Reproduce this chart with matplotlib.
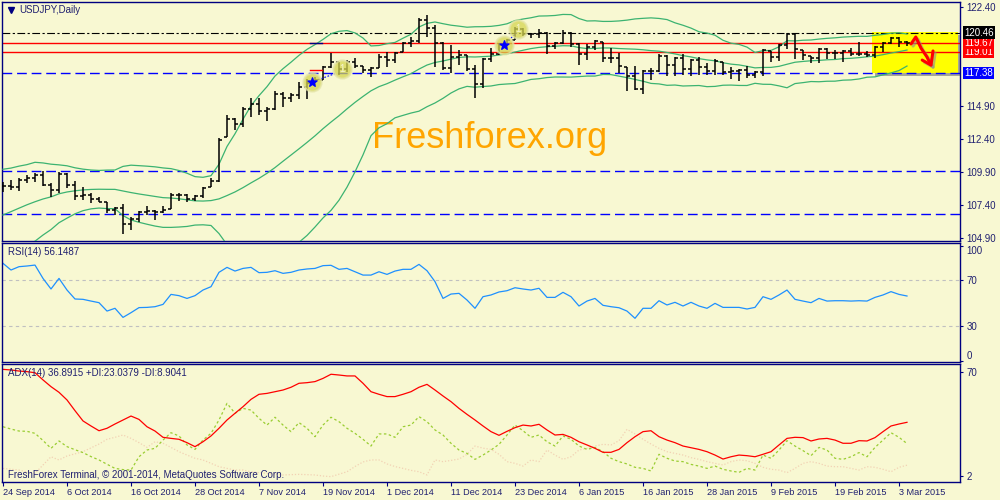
import numpy as np
import pandas as pd
import matplotlib
matplotlib.use('Agg')
import matplotlib.pyplot as plt
import matplotlib.patheffects as pe
from matplotlib.patches import Rectangle

plt.rcParams['font.family'] = ['Liberation Sans', 'DejaVu Sans']

# ---- data: USDJPY daily bars, 24 Sep 2014 .. 4 Mar 2015 ----
date_labels = ['24 Sep 2014', '6 Oct 2014', '16 Oct 2014', '28 Oct 2014', '7 Nov 2014',
               '19 Nov 2014', '1 Dec 2014', '11 Dec 2014', '23 Dec 2014', '6 Jan 2015',
               '16 Jan 2015', '28 Jan 2015', '9 Feb 2015', '19 Feb 2015', '3 Mar 2015']

highs = [109.14, 109.30, 109.45, 109.67, 109.80, 109.97, 109.07, 109.90, 109.82, 109.20,
         108.76, 108.30, 108.00, 107.63, 107.25, 107.48, 106.50, 106.95, 107.33, 107.00,
         107.33, 108.30, 108.30, 108.20, 108.15, 108.76, 109.45, 112.48, 114.20, 114.00,
         114.82, 115.50, 115.50, 114.82, 116.04, 115.96, 115.88, 116.72, 116.95, 117.10,
         117.93, 118.92, 118.23, 118.38, 118.54, 117.93, 117.85, 118.84, 119.00, 119.00,
         119.75, 120.13, 121.57, 121.80, 121.04, 119.75, 119.52, 119.14, 118.76, 118.00,
         118.54, 119.29, 119.67, 119.98, 120.88, 120.80, 120.43, 120.73, 120.50, 119.75,
         120.66, 120.50, 119.67, 119.60, 119.90, 119.75, 119.29, 118.92, 117.85, 117.93,
         117.63, 117.78, 118.84, 118.76, 118.61, 118.84, 118.46, 118.61, 118.16, 118.46,
         118.23, 117.85, 117.70, 117.93, 117.55, 119.22, 119.07, 119.60, 120.43, 120.43,
         119.14, 118.69, 119.29, 119.29, 119.14, 119.14, 119.29, 119.75, 119.07, 119.44,
         119.75, 120.13, 120.13, 119.82]
lows = [108.38, 108.50, 108.45, 109.07, 109.14, 108.84, 108.00, 108.30, 108.69, 107.78,
        107.78, 107.55, 107.60, 106.80, 106.64, 105.20, 105.50, 106.10, 106.64, 106.27,
        106.80, 107.10, 107.70, 107.63, 107.70, 107.93, 108.76, 109.14, 112.55, 113.08,
        113.30, 114.07, 114.20, 113.76, 114.60, 114.82, 115.20, 115.43, 115.43, 116.50,
        116.87, 117.78, 117.25, 117.48, 117.78, 117.40, 117.10, 117.78, 117.85, 118.16,
        119.00, 119.37, 119.67, 120.13, 117.85, 117.63, 117.40, 118.00, 117.55, 115.50,
        116.26, 118.23, 118.76, 119.29, 119.90, 120.20, 120.05, 120.05, 118.84, 119.22,
        119.60, 119.37, 118.00, 118.40, 119.14, 118.23, 118.16, 117.40, 116.04, 116.11,
        115.80, 116.87, 117.48, 117.17, 117.17, 117.25, 117.17, 117.25, 117.25, 117.25,
        117.25, 116.95, 116.80, 117.02, 117.02, 117.17, 118.23, 118.31, 119.22, 118.46,
        118.40, 118.16, 118.16, 118.46, 118.46, 118.23, 118.69, 118.69, 118.61, 118.54,
        119.00, 119.60, 119.37, 119.44]
opens = [108.80, 108.86, 108.74, 109.28, 109.44, 109.65, 108.95, 108.50, 109.76, 108.90,
         108.06, 108.13, 107.84, 107.63, 107.03, 107.15, 105.95, 106.33, 106.88, 106.93,
         106.90, 107.04, 108.17, 108.14, 107.83, 108.10, 108.76, 109.21, 112.55, 113.94,
         113.55, 114.66, 115.04, 114.52, 114.70, 115.80, 115.54, 115.73, 116.32, 116.62,
         116.90, 117.86, 118.20, 117.71, 118.25, 117.93, 117.64, 117.78, 118.63, 118.42,
         119.00, 119.70, 119.80, 121.44, 120.84, 119.68, 117.76, 118.62, 118.74, 117.70,
         116.60, 118.45, 118.87, 119.51, 119.90, 120.75, 120.32, 120.32, 120.45, 119.42,
         119.70, 120.46, 119.62, 118.83, 119.39, 119.75, 118.51, 118.53, 117.85, 117.18,
         116.15, 117.57, 117.54, 118.70, 117.98, 118.50, 117.74, 118.35, 117.86, 117.53,
         118.23, 117.49, 117.55, 117.66, 117.26, 117.45, 119.07, 118.64, 119.50, 120.35,
         119.14, 118.69, 118.55, 119.25, 118.91, 118.95, 119.05, 118.85, 118.86, 118.80,
         119.40, 119.64, 120.02, 119.75]
closes = [108.86, 108.74, 109.28, 109.44, 109.65, 108.95, 108.50, 109.76, 108.90, 108.06,
          108.13, 107.84, 107.65, 107.03, 107.15, 105.95, 106.33, 106.88, 106.93, 106.90,
          107.04, 108.17, 108.14, 107.83, 108.10, 108.65, 109.21, 112.33, 113.94, 113.55,
          114.66, 115.04, 114.52, 114.70, 115.80, 115.54, 115.73, 116.32, 116.62, 116.90,
          117.86, 118.20, 117.71, 118.25, 117.95, 117.64, 117.77, 118.63, 118.42, 118.95,
          119.70, 119.80, 121.44, 120.84, 119.68, 117.76, 118.62, 118.74, 117.70, 116.60,
          118.45, 118.87, 119.51, 119.90, 120.75, 120.32, 120.32, 120.45, 119.42, 119.70,
          120.46, 119.62, 118.83, 119.39, 119.82, 118.51, 118.53, 117.92, 117.18, 116.15,
          117.57, 117.54, 118.70, 117.98, 118.50, 117.74, 118.35, 117.86, 117.53, 118.31,
          117.49, 117.55, 117.66, 117.26, 117.45, 119.13, 118.64, 119.50, 120.35, 119.20,
          118.79, 118.55, 119.25, 118.91, 118.95, 119.05, 118.85, 118.86, 118.80, 119.40,
          119.64, 120.02, 119.75, 119.70]
# closes of the 19 sessions before 24 Sep, only used to warm up the Bollinger bands
hist_closes = [103.71, 104.06, 104.27, 105.06, 104.78, 105.30, 105.08, 106.15, 106.28, 106.79,
               107.12, 107.34, 107.19, 107.20, 108.40, 108.72, 109.01, 108.80, 108.77]

levels_black = [120.46]
levels_red = [119.67, 119.01]
levels_blue = [117.38, 110.00, 106.72]

rsi = [84.5, 78.7, 81.6, 82.2, 83.0, 71.4, 62.2, 71.4, 61.3, 53.5,
       53.2, 51.7, 50.3, 43.0, 45.4, 37.5, 41.6, 46.0, 46.2, 46.8,
       48.8, 57.5, 56.4, 54.0, 56.4, 61.3, 64.2, 76.7, 81.0, 77.8,
       80.1, 81.0, 76.4, 76.7, 78.1, 75.8, 76.7, 78.7, 79.6, 80.1,
       82.5, 82.8, 79.3, 80.1, 77.2, 74.3, 74.3, 77.2, 74.9, 77.8,
       79.3, 79.3, 83.6, 78.1, 68.6, 54.0, 57.8, 58.4, 52.6, 45.4,
       55.5, 57.0, 59.6, 60.7, 63.3, 62.2, 61.3, 62.8, 54.9, 54.9,
       59.3, 55.5, 47.4, 51.7, 54.0, 48.0, 46.8, 45.9, 43.0, 36.7,
       45.4, 45.4, 52.0, 48.3, 50.6, 47.4, 50.6, 47.4, 45.4, 49.7,
       46.2, 46.2, 46.2, 44.8, 46.2, 55.5, 53.2, 57.0, 61.3, 53.2,
       51.7, 50.3, 54.0, 51.7, 52.0, 52.0, 51.7, 52.0, 51.7, 54.9,
       57.0, 59.9, 57.5, 56.1]
adx = [71.5, 71.1, 70.4, 70.0, 69.3, 64.6, 60.2, 56.5, 51.5, 44.5,
       37.8, 34.5, 31.4, 33.0, 35.8, 38.4, 41.0, 38.8, 34.0, 31.2,
       27.1, 26.4, 25.8, 23.6, 21.0, 24.2, 28.0, 33.0, 38.4, 42.8,
       47.1, 51.9, 55.2, 55.8, 56.9, 58.0, 59.8, 62.4, 62.8, 63.5,
       65.6, 68.3, 67.8, 67.2, 67.2, 62.4, 56.9, 55.2, 53.7, 53.7,
       55.2, 56.9, 59.8, 61.7, 58.0, 54.1, 50.4, 46.0, 42.1, 38.4,
       34.5, 30.8, 28.4, 31.0, 33.4, 35.1, 34.5, 35.6, 31.9, 28.6,
       29.0, 27.1, 24.2, 22.1, 19.9, 17.3, 17.3, 19.2, 23.6, 27.5,
       30.8, 31.4, 27.5, 25.3, 23.6, 21.4, 20.3, 19.2, 17.7, 15.5,
       12.9, 14.4, 15.5, 15.1, 14.4, 16.0, 17.7, 22.1, 26.4, 27.1,
       26.9, 24.7, 26.0, 26.4, 25.3, 23.2, 23.2, 24.9, 24.7, 26.9,
       30.8, 34.5, 35.8, 36.9]
plus_di = [34.0, 32.5, 31.2, 31.0, 29.7, 25.0, 19.9, 24.7, 21.0, 19.0,
           17.1, 14.5, 12.3, 9.5, 6.8, 6.0, 5.7, 14.4, 18.8, 19.9,
           25.3, 30.1, 28.0, 22.1, 19.2, 25.3, 29.7, 38.4, 49.3, 42.8,
           46.0, 44.9, 39.5, 35.1, 40.2, 35.1, 30.8, 36.7, 33.0, 27.5,
           35.1, 40.2, 37.3, 33.0, 29.7, 25.8, 21.4, 29.3, 29.3, 27.1,
           34.0, 35.1, 40.6, 37.3, 31.9, 28.6, 23.2, 18.8, 16.6, 12.7,
           15.5, 18.8, 22.5, 28.6, 35.1, 31.4, 27.1, 28.6, 24.2, 21.4,
           28.0, 25.8, 21.4, 19.2, 20.5, 17.7, 13.4, 11.2, 9.7, 7.5,
           6.8, 5.1, 16.0, 13.4, 11.6, 11.2, 9.4, 8.3, 6.8, 8.3,
           6.2, 5.1, 4.2, 6.8, 5.7, 15.5, 13.4, 18.8, 24.9, 21.4,
           18.4, 15.1, 20.5, 18.8, 13.4, 12.7, 14.4, 17.1, 14.4, 20.5,
           25.3, 30.1, 27.1, 23.0]
minus_di = [6.8, 6.2, 5.7, 4.5, 3.6, 9.0, 14.4, 12.3, 14.9, 16.3,
            17.7, 20.2, 22.7, 25.8, 27.1, 28.6, 26.4, 23.6, 20.5, 24.2,
            23.2, 20.5, 17.7, 15.5, 13.4, 12.3, 10.1, 7.9, 6.8, 5.7,
            5.7, 4.6, 4.0, 3.5, 3.0, 2.5, 2.7, 2.9, 2.7, 2.5,
            1.8, 1.4, 3.0, 4.6, 8.0, 11.0, 12.3, 12.3, 9.7, 8.0,
            6.8, 5.5, 4.6, 2.5, 12.3, 11.2, 12.0, 12.9, 16.0, 21.4,
            20.0, 19.2, 16.0, 11.2, 10.1, 8.3, 12.3, 11.2, 18.8, 15.5,
            12.7, 14.4, 18.8, 19.9, 21.4, 22.5, 22.1, 24.9, 32.3, 29.3,
            25.8, 22.7, 19.9, 17.7, 16.6, 15.5, 13.8, 12.7, 11.2, 10.1,
            9.0, 11.2, 12.3, 11.8, 10.1, 7.5, 6.2, 5.7, 4.0, 6.8,
            10.1, 11.2, 10.1, 8.3, 7.9, 7.9, 6.8, 5.7, 7.9, 7.5,
            6.2, 4.6, 7.5, 8.9]

# ---- styling ----
BG = '#F8F8D2'
NAVY = '#000080'
TXT = '#202070'
BBCOL = '#3CB371'
FS = 7.0

x = np.arange(len(closes))
hi = np.array(highs)
lo = np.array(lows)
op = np.clip(opens, lo, hi)
cl = np.clip(closes, lo, hi)

# Bollinger bands (20, 2)
s = pd.Series(hist_closes + closes)
n0 = len(hist_closes)
bb_mid = s.rolling(20).mean().to_numpy()[n0:]
bb_sd = s.rolling(20).std(ddof=0).to_numpy()[n0:]

fig = plt.figure(figsize=(10, 5), dpi=100, facecolor=BG)
ax1 = fig.add_axes([0.002, 0.518, 0.958, 0.478])
ax2 = fig.add_axes([0.002, 0.276, 0.958, 0.238])
ax3 = fig.add_axes([0.002, 0.036, 0.958, 0.236])

for ax in (ax1, ax2, ax3):
    ax.set_facecolor(BG)
    for sp in ax.spines.values():
        sp.set_color(NAVY)
        sp.set_linewidth(1)
    ax.set_xlim(-0.125, 119.625)
    ax.yaxis.tick_right()
    ax.tick_params(axis='y', direction='out', length=2.5, width=0.8, color=NAVY,
                   labelcolor=TXT, labelsize=FS, pad=2)
    ax.tick_params(axis='x', bottom=False, labelbottom=False)

# ---- price pane ----
ax1.set_ylim(104.67, 122.78)
pticks = [104.90, 107.40, 109.90, 112.40, 114.90, 122.40]
ax1.set_yticks(pticks)
ax1.set_yticklabels(['%.2f' % v for v in pticks])

ax1.add_patch(Rectangle((108.6, 117.4), 10.8, 3.11, fc='#FFFF00', ec='none', zorder=0.5,
                        path_effects=[pe.SimplePatchShadow(offset=(2.5, -2.5), shadow_rgbFace='#707070', alpha=0.6),
                                      pe.Normal()]))

ax1.text(0.509, 0.389, 'Freshforex.org', transform=ax1.transAxes, color='#FFA500',
         fontsize=26, ha='center', va='baseline', zorder=1)

for v in levels_black:
    ax1.axhline(v, color='black', lw=0.8, dashes=(7, 2.2, 2, 2.2), zorder=2)
for v in levels_red:
    ax1.axhline(v, color='#FF0000', lw=1.0, zorder=2)
for v in levels_blue:
    ax1.axhline(v, color='#0000FF', lw=1.0, dashes=(7, 3.5), zorder=2)

ax1.plot(x, bb_mid, color=BBCOL, lw=0.9, zorder=3)
ax1.plot(x, bb_mid + 2 * bb_sd, color=BBCOL, lw=0.9, zorder=3)
ax1.plot(x, bb_mid - 2 * bb_sd, color=BBCOL, lw=0.9, zorder=3)

ax1.vlines(x, lo, hi, color='black', lw=1.1, zorder=4)
ax1.hlines(op, x - 0.35, x, color='black', lw=1.1, zorder=4)
ax1.hlines(cl, x, x + 0.35, color='black', lw=1.1, zorder=4)

# trade marks
ax1.plot([38.4, 39.9], [117.63, 117.63], color='red', lw=1, zorder=5)
ax1.plot([38.4, 39.9], [119.70, 119.70], color=NAVY, lw=1, zorder=5)
ax1.plot([38.6, 41.5], [116.72, 117.35], color='#0000FF', lw=0.8, ls=(0, (1.5, 1.5)), zorder=5)
ax1.plot([62.6, 64.2], [119.52, 120.45], color='#0000FF', lw=0.8, ls=(0, (1.5, 1.5)), zorder=5)
ax1.scatter([38.6, 42.4, 62.6, 64.4], [116.72, 117.70, 119.52, 120.73], s=170,
            c='#D4D450', alpha=0.75, edgecolors='#E4E4A8', linewidths=1.5, zorder=6)
ax1.scatter([38.6, 62.6], [116.72, 119.52], marker='*', s=45, c='#0000FF', zorder=7)
for bx, by in [(42.4, 117.70), (64.4, 120.73)]:
    ax1.text(bx, by, '1', color='#F4F4D0', fontsize=7, ha='center', va='center', zorder=7)

# hand-drawn red arrow
arr_x = [113.5, 114.1, 114.75, 115.5, 116.0]
arr_y = [119.60, 120.13, 119.29, 118.61, 118.0]
head_x = [114.9, 116.0, 116.25]
head_y = [118.38, 118.0, 119.07]
eff = [pe.SimpleLineShadow(offset=(1.5, -1.5), shadow_color='#909090', alpha=0.6), pe.Normal()]
ax1.plot(arr_x, arr_y, color='#FF0000', lw=2.2, solid_capstyle='round', zorder=8, path_effects=eff)
ax1.plot(head_x, head_y, color='#FF0000', lw=2.2, solid_capstyle='round',
         solid_joinstyle='round', zorder=8, path_effects=eff)

ax1.text(0.0175, 0.967, 'USDJPY,Daily', transform=ax1.transAxes, fontsize=FS,
         color=TXT, ha='left', va='center')
ax1.plot([0.0095], [0.967], marker='v', ms=4, color=NAVY, transform=ax1.transAxes, clip_on=False)

# price boxes on the right axis, drawn bottom-up so the upper ones sit on top
box_levels = [117.38, 119.01, 119.67, 120.46]
box_colors = ['#0000FF', '#FF0000', '#FF0000', 'black']
for k, (v, c) in enumerate(zip(box_levels, box_colors)):
    ax1.text(1.004, v, '%.2f' % v, transform=ax1.get_yaxis_transform(), ha='left', va='center',
             fontsize=FS, color='white', clip_on=False, zorder=10 + k,
             bbox=dict(boxstyle='square,pad=0.12', fc=c, ec='none'))

# ---- RSI pane ----
ax2.set_ylim(-1.3, 102.2)
ax2.set_yticks([0, 30, 70, 100])
ax2.set_yticklabels(['0', '30', '70', '100'])
labs = ax2.get_yticklabels()
labs[0].set_va('bottom')
labs[3].set_va('top')
for v in (70, 30):
    ax2.axhline(v, color='#C0C0C0', lw=0.8, dashes=(3, 3))
ax2.plot(x, rsi, color='#1E90FF', lw=0.9)
ax2.text(0.0063, 0.924, 'RSI(14) 56.1487', transform=ax2.transAxes, fontsize=FS,
         color=TXT, ha='left', va='center')

# ---- ADX pane ----
ax3.set_ylim(-2.1, 75)
ax3.set_yticks([2, 70])
ax3.set_yticklabels(['2', '70'])
ax3.plot(x, minus_di, color='#F2D2B4', lw=0.9, ls=(0, (1, 1.5)))
ax3.plot(x, plus_di, color='#9ACD32', lw=0.9, ls=(0, (2, 2)))
ax3.plot(x, adx, color='#FF0000', lw=0.9)
ax3.text(0.0063, 0.924, 'ADX(14) 36.8915 +DI:23.0379 -DI:8.9041', transform=ax3.transAxes,
         fontsize=FS, color=TXT, ha='left', va='center')
ax3.text(0.0063, 0.059, 'FreshForex Terminal, \u00a9 2001-2014, MetaQuotes Software Corp.',
         transform=ax3.transAxes, fontsize=FS, color=TXT, ha='left', va='center')

ax3.set_xticks(np.arange(0, len(x), 8))
ax3.set_xticklabels(date_labels)
ax3.tick_params(axis='x', bottom=True, labelbottom=True, direction='out', length=3,
                width=0.8, color=NAVY, labelcolor=TXT, labelsize=6.6, pad=1.5)
for lab in ax3.get_xticklabels():
    lab.set_ha('left')

fig.savefig('out.png', dpi=100, facecolor=BG)
